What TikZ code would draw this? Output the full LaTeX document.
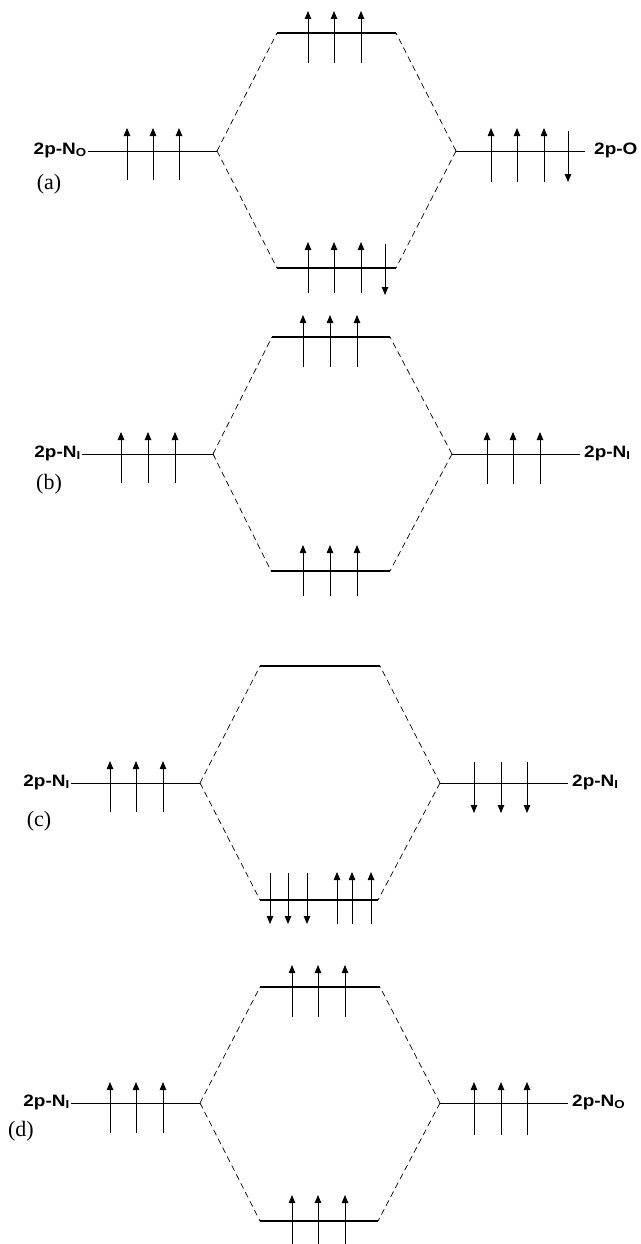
\documentclass[tikz,border=0pt]{standalone}
\usepackage{fontspec}
\usepackage{graphicx}
\setmainfont{Liberation Serif}
\newfontfamily\lblfont{Liberation Sans}
\usetikzlibrary{arrows.meta}
\newcommand{\orb}[1]{\scalebox{1.15}[1]{#1}}
\begin{document}
\begin{tikzpicture}[x=1pt,y=-1pt,
  level/.style={line width=0.8pt},
  molevel/.style={line width=2.2pt},
  corr/.style={line width=0.7pt,dash pattern=on 6pt off 4pt},
  elec/.style={line width=0.8pt,-{Triangle[length=8pt,width=6.5pt]}},
  orblabel/.style={font=\lblfont\bfseries\fontsize{16.5}{18}\selectfont,inner sep=1pt},
  panellabel/.style={font=\fontsize{22}{24}\selectfont,inner sep=0pt}]
\useasboundingbox (0,0) rectangle (640,1244);
\newcommand{\elecup}[3]{\draw[elec] (#1,#2) -- (#1,#3);}
% ---------------- panel (a)
\node[orblabel,anchor=east] (aLlab) at (88,150) {\orb{2p-N\textsubscript{O}}};
\node[orblabel,anchor=west] (aRlab) at (593,150) {\orb{2p-O}};
\node[panellabel] (apl) at (49,184) {(a)};
\coordinate (aL1) at (88,151); \coordinate (aL2) at (217,151);
\coordinate (aR1) at (456,151); \coordinate (aR2) at (585,151);
\coordinate (aT1) at (277,33); \coordinate (aT2) at (396,33);
\coordinate (aB1) at (277,268); \coordinate (aB2) at (396,268);
\draw[level] (aL1) -- (aL2);
\draw[level] (aR1) -- (aR2);
\draw[molevel] (aT1) -- (aT2);
\draw[molevel] (aB1) -- (aB2);
\draw[corr] (aL2) -- (aT1); \draw[corr] (aL2) -- (aB1);
\draw[corr] (aR1) -- (aT2); \draw[corr] (aR1) -- (aB2);
\foreach \x in {127,153,179} {\elecup{\x}{180}{128}}
\foreach \x in {491,517,544} {\elecup{\x}{182}{128}}
\elecup{568}{131}{182}
\foreach \x in {308,334,361} {\elecup{\x}{63}{11}}
\foreach \x in {308,334,361} {\elecup{\x}{293}{242}}
\elecup{385}{244}{295}
% ---------------- panel (b)
\node[orblabel,anchor=east] (bLlab) at (82,453) {\orb{2p-N\textsubscript{I}}};
\node[orblabel,anchor=west] (bRlab) at (583,453) {\orb{2p-N\textsubscript{I}}};
\node[panellabel] (bpl) at (49,484) {(b)};
\coordinate (bL1) at (82,454); \coordinate (bL2) at (213,454);
\coordinate (bR1) at (452,454); \coordinate (bR2) at (580,454);
\coordinate (bT1) at (272,337); \coordinate (bT2) at (390,337);
\coordinate (bB1) at (271,571); \coordinate (bB2) at (390,571);
\draw[level] (bL1) -- (bL2);
\draw[level] (bR1) -- (bR2);
\draw[molevel] (bT1) -- (bT2);
\draw[molevel] (bB1) -- (bB2);
\draw[corr] (bL2) -- (bT1); \draw[corr] (bL2) -- (bB1);
\draw[corr] (bR1) -- (bT2); \draw[corr] (bR1) -- (bB2);
\foreach \x in {121,148,175} {\elecup{\x}{483}{432}}
\foreach \x in {487,513,540} {\elecup{\x}{484}{432}}
\foreach \x in {303,330,357} {\elecup{\x}{367}{315}}
\foreach \x in {303,330,357} {\elecup{\x}{596}{545}}
% ---------------- panel (c)
\node[orblabel,anchor=east] (cLlab) at (71,782) {\orb{2p-N\textsubscript{I}}};
\node[orblabel,anchor=west] (cRlab) at (571,782) {\orb{2p-N\textsubscript{I}}};
\node[panellabel] (cpl) at (39,821) {(c)};
\coordinate (cL1) at (71,783); \coordinate (cL2) at (200,783);
\coordinate (cR1) at (440,783); \coordinate (cR2) at (568,783);
\coordinate (cT1) at (260,666); \coordinate (cT2) at (380,666);
\coordinate (cB1) at (260,900); \coordinate (cB2) at (378,900);
\draw[level] (cL1) -- (cL2);
\draw[level] (cR1) -- (cR2);
\draw[molevel] (cT1) -- (cT2);
\draw[molevel] (cB1) -- (cB2);
\draw[corr] (cL2) -- (cT1); \draw[corr] (cL2) -- (cB1);
\draw[corr] (cR1) -- (cT2); \draw[corr] (cR1) -- (cB2);
\foreach \x in {110,136,163} {\elecup{\x}{812}{761}}
\foreach \x in {474,501,527} {\elecup{\x}{762}{813}}
\foreach \x in {270,288,307} {\elecup{\x}{873}{924}}
\foreach \x in {337,352,371} {\elecup{\x}{924}{872}}
% ---------------- panel (d)
\node[orblabel,anchor=east] (dLlab) at (71,1102) {\orb{2p-N\textsubscript{I}}};
\node[orblabel,anchor=west] (dRlab) at (571,1102) {\orb{2p-N\textsubscript{O}}};
\node[panellabel] (dpl) at (21,1131) {(d)};
\coordinate (dL1) at (71,1103); \coordinate (dL2) at (200,1103);
\coordinate (dR1) at (440,1103); \coordinate (dR2) at (568,1103);
\coordinate (dT1) at (260,987); \coordinate (dT2) at (380,987);
\coordinate (dB1) at (260,1221); \coordinate (dB2) at (378,1221);
\draw[level] (dL1) -- (dL2);
\draw[level] (dR1) -- (dR2);
\draw[molevel] (dT1) -- (dT2);
\draw[molevel] (dB1) -- (dB2);
\draw[corr] (dL2) -- (dT1); \draw[corr] (dL2) -- (dB1);
\draw[corr] (dR1) -- (dT2); \draw[corr] (dR1) -- (dB2);
\foreach \x in {110,136,163} {\elecup{\x}{1133}{1082}}
\foreach \x in {474,501,527} {\elecup{\x}{1135}{1082}}
\foreach \x in {292,318,345} {\elecup{\x}{1017}{965}}
\foreach \x in {292,318,345} {\elecup{\x}{1244}{1195}}
\end{tikzpicture}
\end{document}
